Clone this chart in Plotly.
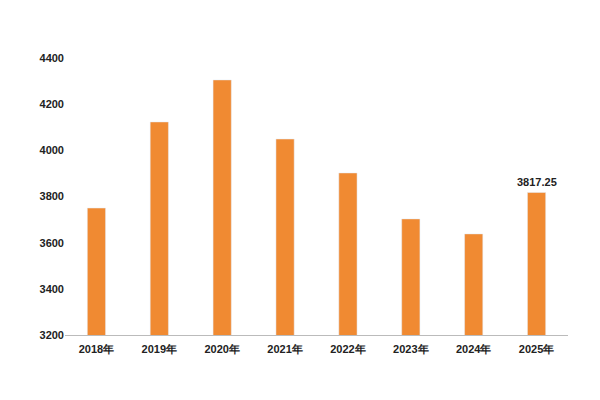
import plotly.graph_objects as go

years = ["2018年", "2019年", "2020年", "2021年", "2022年", "2023年", "2024年", "2025年"]
values = [3750, 4123, 4305, 4049, 3902, 3703, 3638, 3817.25]
label_year = "2025年"
label_value = 3817.25

fig = go.Figure(go.Bar(x=years, y=values, marker_color="#F08A32"))
fig.add_annotation(x=label_year, y=label_value, text="<b>3817.25</b>", showarrow=False,
                   yanchor="bottom", yshift=3,
                   font=dict(size=11, color="#222", family="Liberation Sans"))
fig.update_layout(
    width=600, height=400, margin=dict(l=57, r=40, t=50, b=73),
    paper_bgcolor="white", plot_bgcolor="white", bargap=0.71,
    showlegend=False,
    font=dict(family="Liberation Sans", size=11, color="#222"),
)
fig.update_yaxes(range=[3200, 4400], dtick=200, showgrid=False, zeroline=False,
                 tickfont=dict(size=11, color="#222", family="Liberation Sans"),
                 tickprefix="<b>", ticksuffix="</b>", ticks="", ticklen=8, tickcolor="white")
fig.update_xaxes(showline=True, linecolor="#bbb", linewidth=1, ticks="outside",
                 ticklen=4, tickcolor="white",
                 tickprefix="<b>", ticksuffix="</b>",
                 tickfont=dict(size=11, color="#222", family="Liberation Sans"))
fig.write_html("out.html")
